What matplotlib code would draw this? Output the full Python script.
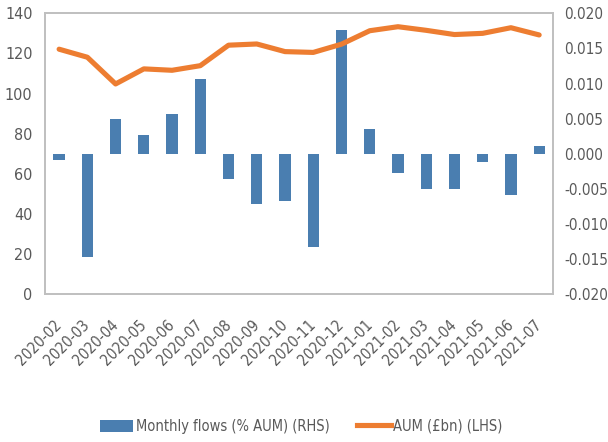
import numpy as np
import matplotlib.pyplot as plt
from matplotlib.patches import Patch
from matplotlib.lines import Line2D

plt.rcParams['font.family'] = ['DejaVu Sans']
plt.rcParams['font.stretch'] = 'condensed'

months = ['2020-02', '2020-03', '2020-04', '2020-05', '2020-06', '2020-07',
          '2020-08', '2020-09', '2020-10', '2020-11', '2020-12', '2021-01',
          '2021-02', '2021-03', '2021-04', '2021-05', '2021-06', '2021-07']
# monthly flows, share of AUM (right axis)
flows = [-0.0009, -0.0147, 0.0049, 0.0027, 0.0056, 0.0107,
         -0.0036, -0.0072, -0.0067, -0.0132, 0.0176, 0.0035,
         -0.0028, -0.0050, -0.0050, -0.0012, -0.0059, 0.0011]
# AUM in £bn (left axis)
aum = [122.1, 118.1, 104.8, 112.3, 111.6, 113.9,
       124.1, 124.7, 120.9, 120.5, 124.6, 131.3,
       133.3, 131.5, 129.4, 130.0, 132.8, 129.2]

blue = '#4a7eb0'
orange = '#ed7d31'
grey = '#595959'
border = '#bfbfbf'

fig = plt.figure(figsize=(6.08, 4.42), dpi=100)
ax = fig.add_axes([0.074, 0.334, 0.836, 0.636])
ax2 = ax.twinx()

x = np.arange(len(months))
ax2.bar(x, flows, width=0.4, color=blue, zorder=1)
ax2.set_ylim(-0.020, 0.020)
rticks = np.arange(-0.020, 0.0201, 0.005)
ax2.set_yticks(rticks)
ax2.set_yticklabels([f'{v:.3f}'.replace('-0.000', '0.000') for v in rticks])

ax.plot(x, aum, color=orange, linewidth=3.7, solid_capstyle='round', zorder=3)
ax.set_ylim(0, 140)
ax.set_yticks(range(0, 141, 20))
ax.set_xlim(-0.5, len(months) - 0.5)
ax.set_xticks(x)
ax.set_xticklabels(months, rotation=45, ha='right', va='center',
                   rotation_mode='anchor')

# line drawn above the bars
ax.set_zorder(ax2.get_zorder() + 1)
ax.patch.set_visible(False)

for a in (ax, ax2):
    a.tick_params(length=0, colors=grey)
    for s in a.spines.values():
        s.set_color(border)
        s.set_linewidth(1.2)
ax.tick_params(axis='y', labelsize=11.5, pad=9)
ax2.tick_params(axis='y', labelsize=11, pad=8)
ax.tick_params(axis='x', labelsize=11, pad=20)

handles = [Patch(facecolor=blue, edgecolor='none'),
           Line2D([0], [0], color=orange, linewidth=3.7)]
fig.legend(handles, ['Monthly flows (% AUM) (RHS)', 'AUM (£bn) (LHS)'],
           loc='center', bbox_to_anchor=(0.495, 0.036), ncol=2, frameon=False,
           fontsize=10.5, labelcolor=grey, handlelength=2.3, handleheight=0.9,
           handletextpad=0.15, columnspacing=1.9)

fig.savefig('out.png', dpi=100)
